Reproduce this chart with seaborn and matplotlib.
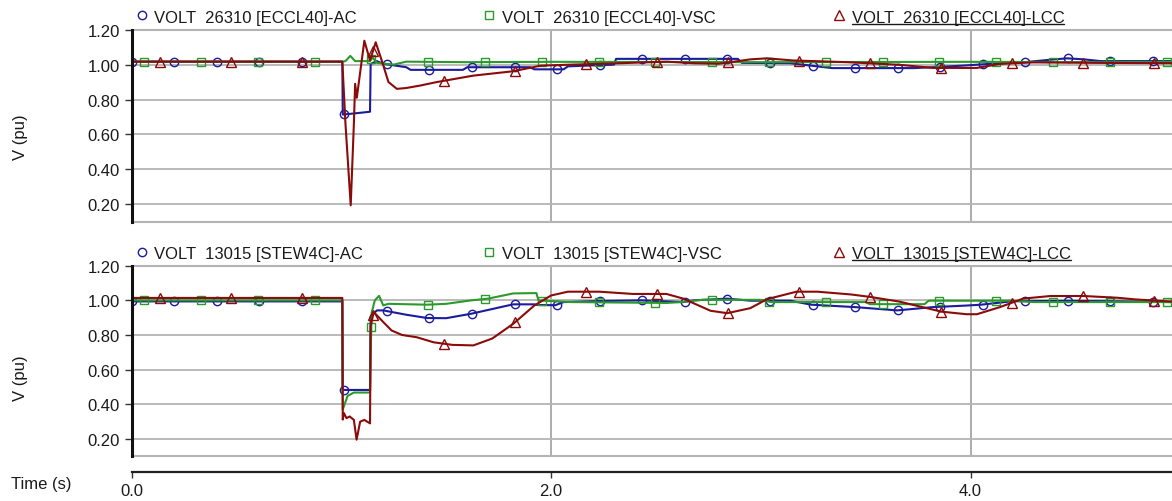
import numpy as np
import matplotlib
matplotlib.use("Agg")
import matplotlib.pyplot as plt
from matplotlib.lines import Line2D
import seaborn as sns

# ---------------- data ----------------
# Top panel: bus 26310 [ECCL40]
t_top_ac = [0, 1.005, 1.007, 1.06, 1.137, 1.14, 1.169, 1.20, 1.31, 1.33, 1.58, 1.60, 1.90, 1.92,
            2.06, 2.08, 2.30, 2.31, 2.89, 2.91, 3.14, 3.24, 3.34, 3.73, 3.82, 3.96, 4.14, 4.26,
            4.38, 4.46, 4.54, 4.62, 4.96]
v_top_ac = [1.017, 1.017, 0.714, 0.72, 0.73, 1.004, 1.02, 1.005, 0.985, 0.97, 0.97, 0.985, 0.985, 0.973,
            0.973, 0.99, 1.0, 1.033, 1.033, 1.01, 1.008, 0.994, 0.98, 0.98, 0.985, 0.994, 1.008, 1.014,
            1.028, 1.036, 1.03, 1.02, 1.02]

t_top_vsc = [0, 1.005, 1.02, 1.043, 1.066, 1.135, 1.15, 1.17, 1.25, 1.31, 1.6, 2.0, 2.5, 3.0, 3.5,
             4.0, 4.5, 4.96]
v_top_vsc = [1.017, 1.017, 1.02, 1.05, 1.02, 1.02, 1.04, 1.01, 1.0, 1.017, 1.014, 1.016, 1.015, 1.014,
             1.015, 1.016, 1.014, 1.015]

t_top_lcc = [0, 1.005, 1.02, 1.045, 1.06, 1.066, 1.074, 1.11, 1.137, 1.164, 1.193, 1.225, 1.265, 1.31,
             1.376, 1.455, 1.63, 1.82, 1.95, 2.10, 2.33, 2.55, 2.68, 2.80, 2.95, 3.03, 3.15, 3.41,
             3.66, 3.82, 4.03, 4.14, 4.30, 4.60, 4.96]
v_top_lcc = [1.017, 1.017, 0.66, 0.194, 0.66, 0.89, 0.81, 1.137, 1.023, 1.128, 1.023, 0.90, 0.861, 0.866,
             0.88, 0.90, 0.937, 0.962, 0.994, 1.0, 1.008, 1.017, 1.008, 1.005, 1.03, 1.036, 1.024, 1.014,
             0.999, 0.981, 0.981, 1.004, 1.013, 1.01, 1.008]

# Bottom panel: bus 13015 [STEW4C]
t_bot_ac = [0, 1.005, 1.007, 1.137, 1.14, 1.17, 1.20, 1.31, 1.41, 1.50, 1.62, 1.76, 1.82, 1.92, 1.94,
            2.02, 2.06, 2.23, 2.43, 2.63, 2.68, 2.84, 2.95, 3.14, 3.24, 3.45, 3.65, 3.82, 3.98, 4.05,
            4.20, 4.46, 4.67, 4.96]
v_bot_ac = [0.994, 0.994, 0.483, 0.483, 0.909, 0.942, 0.942, 0.917, 0.898, 0.897, 0.923, 0.961, 0.977,
            0.977, 0.973, 0.972, 0.99, 0.996, 1.0, 0.99, 1.0, 1.01, 0.998, 0.998, 0.975, 0.961, 0.942,
            0.961, 0.97, 0.975, 0.995, 0.997, 0.995, 0.99]

t_bot_vsc = [0, 1.005, 1.007, 1.03, 1.06, 1.137, 1.14, 1.145, 1.16, 1.18, 1.20, 1.225, 1.41, 1.50,
             1.62, 1.70, 1.82, 1.93, 1.94, 2.10, 2.55, 2.62, 2.72, 3.0, 3.05, 3.5, 3.52, 3.78, 3.80,
             4.20, 4.30, 4.96]
v_bot_vsc = [1.0, 1.0, 0.37, 0.448, 0.468, 0.468, 0.70, 0.93, 1.0, 1.026, 0.971, 0.98, 0.975, 0.98,
             1.0, 1.01, 1.04, 1.042, 1.0, 0.99, 0.985, 0.99, 1.003, 1.003, 0.99, 0.99, 0.978, 0.978,
             0.998, 0.998, 0.99, 0.99]

t_bot_lcc = [0, 1.005, 1.007, 1.012, 1.025, 1.04, 1.06, 1.073, 1.09, 1.11, 1.137, 1.14, 1.155, 1.20,
             1.24, 1.29, 1.36, 1.44, 1.53, 1.63, 1.72, 1.82, 1.92, 2.0, 2.08, 2.23, 2.39, 2.55, 2.63,
             2.76, 2.84, 2.95, 3.03, 3.17, 3.27, 3.43, 3.52, 3.66, 3.86, 3.98, 4.03, 4.14, 4.25, 4.38,
             4.54, 4.70, 4.79, 4.96]
v_bot_lcc = [1.014, 1.014, 0.312, 0.35, 0.32, 0.33, 0.31, 0.196, 0.30, 0.31, 0.29, 0.855, 0.932, 0.875,
             0.826, 0.80, 0.787, 0.758, 0.743, 0.740, 0.78, 0.865, 0.97, 1.028, 1.05, 1.05, 1.037, 1.037,
             1.01, 0.94, 0.926, 0.955, 1.007, 1.05, 1.05, 1.034, 1.02, 0.993, 0.935, 0.92, 0.92, 0.961,
             1.01, 1.025, 1.025, 1.015, 1.005, 0.993]

labels_top = ["VOLT  26310 [ECCL40]-AC", "VOLT  26310 [ECCL40]-VSC", "VOLT  26310 [ECCL40]-LCC"]
labels_bot = ["VOLT  13015 [STEW4C]-AC", "VOLT  13015 [STEW4C]-VSC", "VOLT  13015 [STEW4C]-LCC"]
y_ticks = [0.2, 0.4, 0.6, 0.8, 1.0, 1.2]
x_ticks = [0.0, 2.0, 4.0]

# ---------------- style ----------------
colors = ["#1b1b9e", "#2a9a2a", "#8b0a0a"]
markers = ["o", "s", "^"]
msizes = [6.0, 5.8, 7.0]
mark_offset = [0.0, 0.06, 0.136]
mark_step = [0.2029, 0.2708, 0.3385]

sns.set_theme(style="white")
plt.rcParams["font.family"] = ["Liberation Sans", "DejaVu Sans"]

W, H = 1172, 502
fig = plt.figure(figsize=(W / 100, H / 100), dpi=100)

L = 131.5 / W
AW = 1 - L
ax1 = fig.add_axes([L, 1 - 222.7 / H, AW, (222.7 - 30.7) / H])
ax2 = fig.add_axes([L, 1 - 457.3 / H, AW, (457.3 - 266.7) / H])
ax3 = fig.add_axes([L, 1 - 473.3 / H, AW, 0.0001])

XMAX = 4.96
grid_c = "#b4b4b4"


def draw_panel(ax, series):
    for i, (t, v) in enumerate(series):
        sns.lineplot(x=t, y=v, ax=ax, color=colors[i], lw=1.5, estimator=None, sort=False,
                     zorder=3 + i)
        mt = np.arange(mark_offset[i], XMAX, mark_step[i])
        mv = np.interp(mt, t, v)
        sns.lineplot(x=mt, y=mv, ax=ax, color=colors[i], linestyle="none", marker=markers[i],
                     markersize=msizes[i], markerfacecolor="none", markeredgecolor=colors[i],
                     markeredgewidth=1.0, estimator=None, sort=False, zorder=3 + i)
    ax.set_xlim(0, XMAX)
    ax.set_ylim(0.10, 1.20)
    ax.set_yticks(y_ticks)
    ax.set_yticklabels([f"{y:.2f}" for y in y_ticks], fontsize=12, color="#1a1a1a")
    ax.set_xticks(x_ticks)
    ax.tick_params(axis="x", length=0, labelbottom=False)
    ax.tick_params(axis="y", direction="out", length=5, width=1, color="#333333", pad=3.5, left=True)
    ax.set_xlabel("")
    ax.set_ylabel("")
    ax.set_axisbelow(True)
    ax.grid(axis="y", color=grid_c, lw=1.3)
    ax.grid(axis="x", color="#a6a6a6", lw=1.3)
    ax.spines["left"].set_color("#111111")
    ax.spines["left"].set_linewidth(2.2)
    ax.spines["left"].set_zorder(10)
    for s in ("top", "bottom"):
        ax.spines[s].set_color(grid_c)
        ax.spines[s].set_linewidth(1.5)
    ax.spines["right"].set_visible(False)


draw_panel(ax1, [(t_top_ac, v_top_ac), (t_top_vsc, v_top_vsc), (t_top_lcc, v_top_lcc)])
draw_panel(ax2, [(t_bot_ac, v_bot_ac), (t_bot_vsc, v_bot_vsc), (t_bot_lcc, v_bot_lcc)])

# separate time axis
ax3.set_xlim(0, XMAX)
ax3.set_xticks(x_ticks)
ax3.set_xticklabels([f"{x:.1f}" for x in x_ticks], fontsize=12, color="#1a1a1a")
ax3.set_yticks([])
ax3.tick_params(axis="x", direction="out", length=4.5, width=1, color="#333333", pad=3.5, bottom=True)
for s in ("top", "left", "right"):
    ax3.spines[s].set_visible(False)
ax3.spines["bottom"].set_color("#222222")
ax3.spines["bottom"].set_linewidth(1.6)
ax3.patch.set_alpha(0)

fig.text(11 / W, 1 - 485 / H, "Time (s)", fontsize=12, ha="left", va="center", color="#1a1a1a")
fig.text(20.5 / W, 1 - 137 / H, "V (pu)", fontsize=12, rotation=90, ha="center", va="center",
         color="#1a1a1a")
fig.text(20.5 / W, 1 - 378 / H, "V (pu)", fontsize=12, rotation=90, ha="center", va="center",
         color="#1a1a1a")

# legends above each panel
mark_x = [141.7, 489.3, 839.3]
text_x = [154.0, 502.5, 851.5]
underline_texts = []
for labels, base_y, mark_y in [(labels_top, 23.3, 16.0), (labels_bot, 259.3, 252.5)]:
    for i, lab in enumerate(labels):
        fig.add_artist(Line2D([mark_x[i] / W], [1 - mark_y / H], transform=fig.transFigure,
                              marker=markers[i], markersize=msizes[i], markerfacecolor="none",
                              markeredgecolor=colors[i], markeredgewidth=1.0, linestyle="none"))
        txt = fig.text(text_x[i] / W, 1 - base_y / H, lab, fontsize=12, ha="left", va="baseline",
                       color="#1a1a1a")
        if i == 2:
            underline_texts.append((txt, base_y))

fig.canvas.draw()
renderer = fig.canvas.get_renderer()
for txt, base_y in underline_texts:
    bb = txt.get_window_extent(renderer=renderer)
    yy = 1 - (base_y + 2.0) / H
    fig.add_artist(Line2D([bb.x0 / W, bb.x1 / W], [yy, yy], transform=fig.transFigure,
                          color="#1a1a1a", lw=1.0))

fig.savefig("out.png", dpi=100)
